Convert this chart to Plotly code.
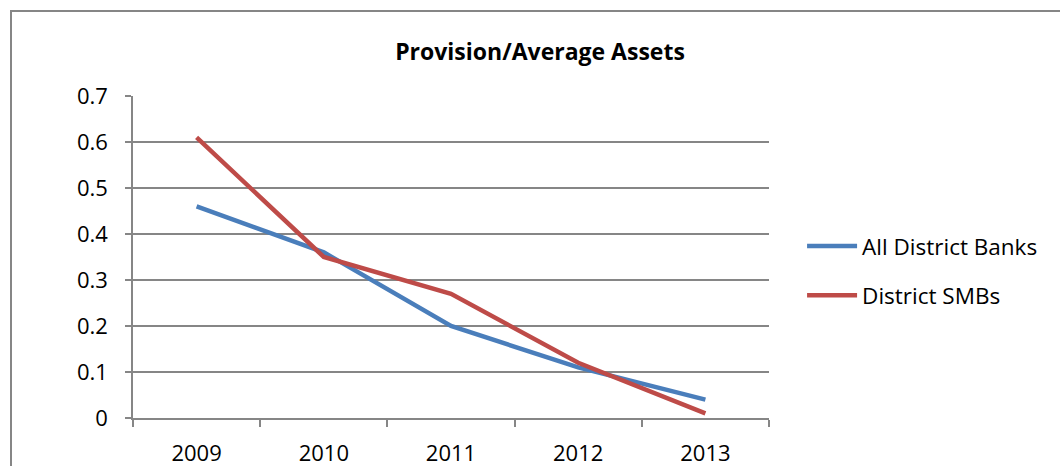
import plotly.graph_objects as go

years = ["2009", "2010", "2011", "2012", "2013"]
all_district_banks = [0.46, 0.36, 0.20, 0.11, 0.04]
district_smbs = [0.61, 0.35, 0.27, 0.12, 0.01]
y_ticks = [0, 0.1, 0.2, 0.3, 0.4, 0.5, 0.6, 0.7]
y_labels = ["0", "0.1", "0.2", "0.3", "0.4", "0.5", "0.6", "0.7"]

FONT = "Open Sans, sans-serif"
GRID = "#868686"

fig = go.Figure()
fig.add_trace(go.Scatter(x=years, y=all_district_banks, mode="lines", name="All District Banks",
                         legendgroup="a", line=dict(color="#4A7EBB", width=4.5)))
fig.add_trace(go.Scatter(x=years, y=district_smbs, mode="lines", name="District SMBs",
                         legendgroup="b", line=dict(color="#BE4B48", width=4.5)))

fig.update_layout(
    width=1060, height=466,
    margin=dict(l=133, r=291, t=96, b=48, autoexpand=False),
    paper_bgcolor="white", plot_bgcolor="white",
    font=dict(family=FONT, size=22, color="black"),
    title=dict(text="<b>Provision/Average Assets</b>", xref="container", yref="container",
               x=540 / 1060, y=1 - 52 / 466, xanchor="center", yanchor="middle",
               font=dict(family=FONT, size=23, color="black"), automargin=False),
    showlegend=True,
    legend=dict(x=1.052, xanchor="left", y=0.457, yanchor="middle",
                font=dict(family=FONT, size=22.5, color="black"),
                traceorder="grouped", tracegroupgap=17, itemwidth=50,
                bgcolor="rgba(0,0,0,0)"),
    xaxis=dict(type="category", range=[-0.5, 4.5], tickson="boundaries",
               ticks="outside", ticklen=7, tickcolor=GRID, tickwidth=1.5,
               showline=True, linecolor=GRID, linewidth=1.5, showgrid=False,
               ticklabelstandoff=15, fixedrange=True, automargin=False),
    yaxis=dict(range=[0, 0.7], tickvals=y_ticks, ticktext=y_labels,
               ticks="outside", ticklen=6, tickcolor=GRID, tickwidth=1.5,
               showline=True, linecolor=GRID, linewidth=1.5,
               showgrid=True, gridcolor=GRID, gridwidth=1.5, zeroline=False,
               ticklabelstandoff=13, fixedrange=True, automargin=False),
    shapes=[dict(type="rect", xref="paper", yref="paper",
                 x0=(11 - 133) / 636, x1=1.6, y0=-0.3, y1=(418 - 11) / 322,
                 line=dict(color="#868686", width=2), fillcolor="rgba(0,0,0,0)", layer="below")],
)

fig.write_html("out.html", config={"displayModeBar": False},
               post_script="document.body.style.margin='0';document.body.style.overflow='hidden';")
